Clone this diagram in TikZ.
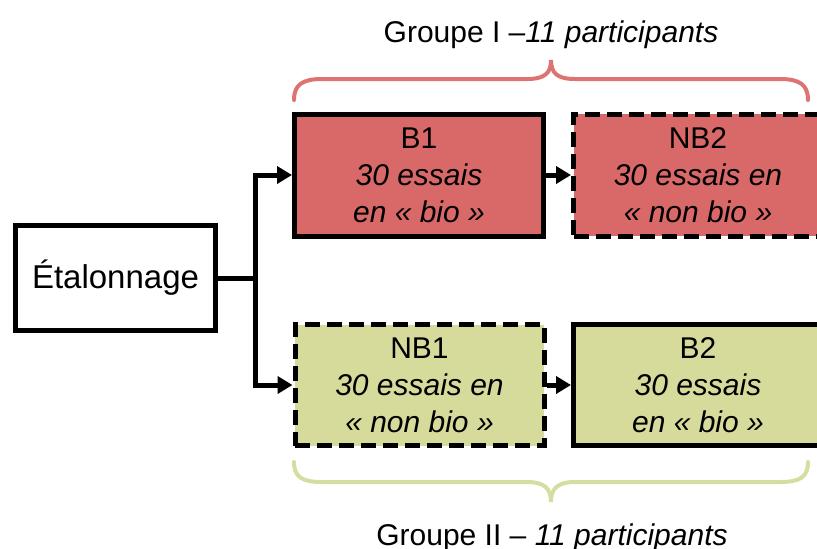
\documentclass[tikz,border=0pt]{standalone}
\usepackage{fontspec}
\setmainfont{Liberation Sans}
\usetikzlibrary{arrows.meta}
\definecolor{redfill}{HTML}{D96868}
\definecolor{greenfill}{HTML}{D6DB9C}
\definecolor{redbrace}{HTML}{DE7373}
\definecolor{greenbrace}{HTML}{D5DEA0}
\tikzset{
  box/.style={draw=black, line width=5pt, minimum width=249pt, minimum height=122pt, inner sep=0pt, align=center, font=\fontsize{30}{37}\selectfont},
  dashbox/.style={box, dash pattern=on 15pt off 7pt},
  conn/.style={line width=5pt, -{Triangle[length=15pt,width=17pt]}},
  bracestyle/.style={line width=4pt, line cap=round},
  grouptext/.style={anchor=base, font=\fontsize{30}{34}\selectfont, inner sep=0pt}
}
\begin{document}
\begin{tikzpicture}[x=1pt,y=-1pt]
\clip (0,0) rectangle (817,549);
\node[box, minimum width=200pt, minimum height=105pt, font=\fontsize{33}{38}\selectfont] (et) at (115.5,278) {Étalonnage};
\node[box, fill=redfill] (b1) at (419,175) {B1\\\textit{30 essais}\\\textit{en « bio »}};
\node[dashbox, fill=redfill] (nb2) at (698,175) {NB2\\\textit{30 essais en}\\\textit{« non bio »}};
\node[dashbox, fill=greenfill, minimum height=121pt] (nb1) at (419.5,385) {NB1\\\textit{30 essais en}\\\textit{« non bio »}};
\node[box, fill=greenfill, minimum height=121pt] (b2) at (698,385) {B2\\\textit{30 essais}\\\textit{en « bio »}};
\coordinate (split) at (255,278);
\draw[line width=5pt] (et.east) -- (split);
\draw[conn] (split) |- (b1.west);
\draw[conn] (split) |- (nb1.west);
\draw[conn] (b1.east) -- (nb2.west);
\draw[conn] (nb1.east) -- (b2.west);
% braces
\draw[bracestyle, redbrace] (294,100) .. controls (294,85) and (302,79) .. (322,79) -- (527,79) .. controls (545,79) and (551,73) .. (551,60) .. controls (551,73) and (557,79) .. (575,79) -- (780,79) .. controls (800,79) and (808,85) .. (808,100);
\draw[bracestyle, greenbrace] (294,462) .. controls (294,477) and (302,482) .. (322,482) -- (527,482) .. controls (545,482) and (551,489) .. (551,502) .. controls (551,489) and (557,482) .. (575,482) -- (780,482) .. controls (800,482) and (808,477) .. (808,462);
\node[grouptext] (g1) at (551,42) {Groupe I –\textit{11 participants}};
\node[grouptext] (g2) at (552,545) {Groupe II – \textit{11 participants}};
\end{tikzpicture}
\end{document}
